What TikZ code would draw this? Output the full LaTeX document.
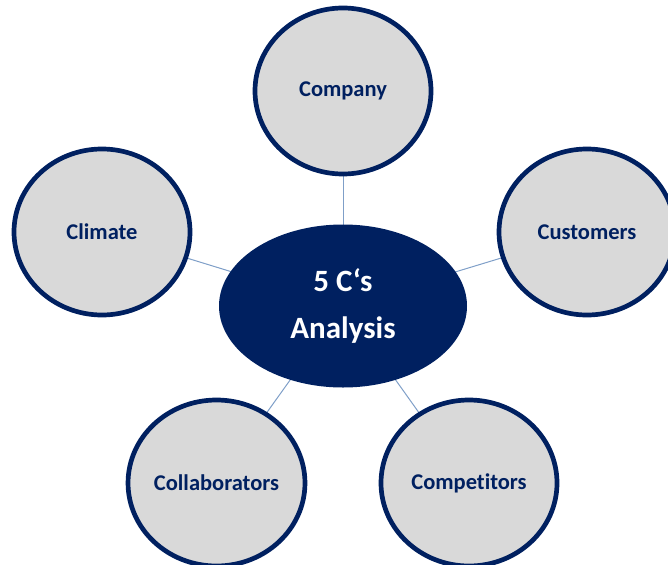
\documentclass[tikz,border=0pt]{standalone}
\usepackage{fontspec}
\setmainfont[Ligatures=NoCommon]{Carlito}
\usetikzlibrary{shapes.geometric}
\definecolor{navy}{HTML}{002060}
\definecolor{ringfill}{HTML}{D9D9D9}
\definecolor{linkblue}{HTML}{7F9FC8}
\tikzset{
  x=1pt,y=1pt,
  cbubble/.style={ellipse,draw=navy,line width=4.7pt,fill=ringfill,
    minimum width=176pt,minimum height=166pt,inner sep=0pt,
    font=\fontsize{22.5}{27}\selectfont\bfseries,text=navy},
  hub/.style={ellipse,fill=navy,minimum width=248pt,minimum height=163pt,
    inner sep=0pt,align=center,text=white,
    font=\fontsize{31}{47}\selectfont\bfseries},
  link/.style={draw=linkblue,line width=1pt}
}
\begin{document}
\begin{tikzpicture}
\useasboundingbox (0,0) rectangle (668,-564);
\clip (0,0) rectangle (668,-564);
\coordinate (hubc) at (343,-306);
\coordinate (companyc) at (343,-91);
\coordinate (climatec) at (102,-232);
\coordinate (customersc) at (587,-232);
\coordinate (collabc) at (216.5,-483);
\coordinate (competc) at (469,-483);
\path[link] (hubc) -- (companyc);
\path[link] (hubc) -- (climatec);
\path[link] (hubc) -- (customersc);
\path[link] (hubc) -- (collabc);
\path[link] (hubc) -- (competc);
\node[hub] (hub) at (hubc) {5 C‘s\\Analysis};
\node[cbubble] (company) at (companyc) {Company};
\node[cbubble] (climate) at (climatec) {Climate};
\node[cbubble] (customers) at (customersc) {Customers};
\node[cbubble] (collab) at (collabc) {Collaborators};
\node[cbubble] (compet) at (competc) {Competitors};
\end{tikzpicture}
\end{document}
